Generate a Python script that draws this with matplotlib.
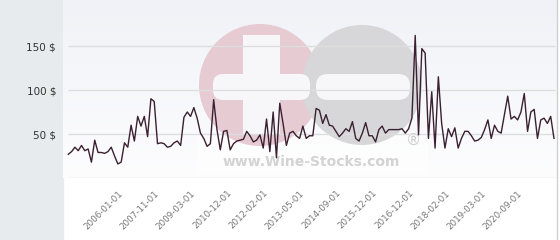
import matplotlib.pyplot as plt
import numpy as np
from matplotlib.patches import Rectangle, Circle, FancyBboxPatch
from matplotlib.colors import LinearSegmentedColormap

# price per bottle, one value per sale
prices = [27, 30, 35, 31, 37, 31, 33, 18, 43, 29,
          29, 28, 30, 35, 25, 16, 18, 40, 35, 60,
          42, 70, 59, 70, 47, 90, 87, 39, 40, 39,
          35, 36, 40, 42, 37, 69, 75, 70, 80, 68,
          51, 45, 36, 39, 89, 55, 32, 53, 54, 32,
          39, 42, 43, 44, 53, 48, 41, 43, 49, 34,
          67, 30, 75, 23,
          85, 62, 37, 51, 53, 48, 45, 59, 45, 48,
          48, 79, 77, 62, 72, 60, 59, 53, 47, 51,
          56, 53, 64, 45, 42, 51, 63, 48, 48, 41,
          55, 59, 51, 55, 55, 55, 55, 56, 51, 56,
          68, 162,
          49, 147, 142, 45, 98, 34, 115, 62, 34, 56,
          47, 57, 34, 45, 53, 53, 48, 42, 43, 46,
          55, 66, 45, 60, 53, 51, 72, 93, 67, 70,
          66, 75, 96, 53, 75, 78, 45, 66, 68, 62,
          70, 45]

tick_labels = ["2006-01-01", "2007-11-01", "2009-03-01", "2010-12-01",
               "2012-02-01", "2013-05-01", "2014-09-01", "2015-12-01",
               "2016-12-01", "2018-02-01", "2019-03-01", "2020-09-01"]
tick_idx = [16 + 11 * k for k in range(len(tick_labels))]
y_ticks = [50, 100, 150]

fig = plt.figure(figsize=(5.6, 2.4), dpi=100)
fig.patch.set_facecolor("white")
# grey band on the left holding the y labels
fig.patches.append(Rectangle((0, 0), 63 / 560, 1, transform=fig.transFigure,
                             color="#e7ebee", zorder=-1))
fig.add_artist(plt.Line2D([556.5 / 560, 556.5 / 560], [0, 1], transform=fig.transFigure,
                          color="#d0d0d0", lw=1))

ax = fig.add_axes([63 / 560, 62 / 240, 494 / 560, 178 / 240])
step = 3.304
x0 = -(68.3 - 63) / step
ax.set_xlim(x0, x0 + 494 / step)
ax.set_ylim(0, 178 / 0.88)
for s in ax.spines.values():
    s.set_visible(False)

grad = np.linspace(0, 1, 200).reshape(-1, 1)
cmap = LinearSegmentedColormap.from_list("bg", ["#fdfdfe", "#f0f2f7"])
ax.imshow(grad, cmap=cmap, extent=[0, 1, 0, 1], transform=ax.transAxes,
          aspect="auto", origin="lower", zorder=0)

# watermark (pixel positions -> inches)
px = fig.dpi_scale_trans
def P(x, y):
    return (x / 100, (240 - y) / 100)

ax.add_patch(Rectangle(P(197, 174), 2.31, 0.40, transform=px, color="white",
                       alpha=0.5, zorder=0.5, lw=0))
ax.add_patch(Circle(P(260, 85), 0.61, transform=px, color="#e6cbd3", zorder=0.6, lw=0))
ax.add_patch(Circle(P(362, 85), 0.60, transform=px, color="#d7d7d9", zorder=0.7, lw=0))
ax.add_patch(Rectangle(P(243, 135), 0.37, 1.0, transform=px, color="#f7f7fa", zorder=0.8, lw=0))
ax.add_patch(FancyBboxPatch(P(213, 100), 0.97, 0.26, boxstyle="round,pad=0,rounding_size=0.1",
                            transform=px, color="#f7f7fa", zorder=0.8, lw=0))
ax.add_patch(FancyBboxPatch(P(316, 100), 0.94, 0.26, boxstyle="round,pad=0,rounding_size=0.12",
                            transform=px, color="#f7f7fa", zorder=0.8, lw=0))
ax.text(*P(311, 162), "www.Wine-Stocks.com", transform=px, ha="center", va="center",
        fontsize=10, fontweight="bold", color="#d3d3d3", zorder=0.9)
ax.text(*P(413, 140), "®", transform=px, ha="center", va="center",
        fontsize=11, color="#cfcfcf", zorder=0.9)

ax.hlines([0] + y_ticks, 0, len(prices) - 0.7, color="#dedede", lw=1, zorder=1)
ax.plot(np.arange(len(prices)), prices, color="#3a2030", lw=1, zorder=3)

ax.set_yticks(y_ticks, [f"{v} $" for v in y_ticks])
ax.tick_params(axis="y", length=0, pad=5, labelsize=7.5, labelcolor="#333333")
ax.set_xticks(tick_idx, tick_labels, rotation=45, ha="right", va="center",
              rotation_mode="anchor")
ax.tick_params(axis="x", length=0, pad=10, labelsize=6.3, labelcolor="#777777")

fig.savefig("out.png", dpi=100)
